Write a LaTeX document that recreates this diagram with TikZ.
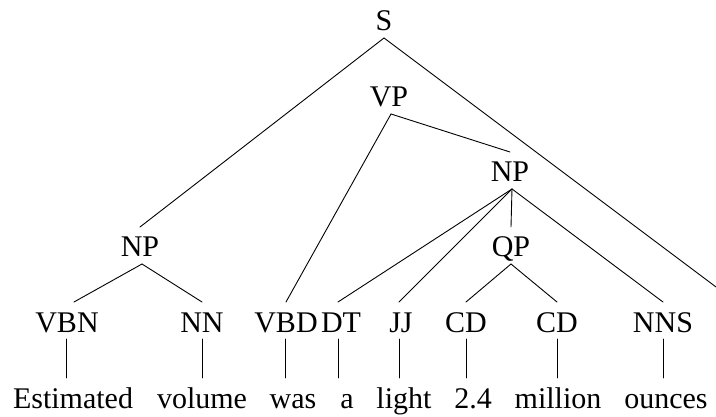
\documentclass[tikz,border=0pt]{standalone}
\usepackage{fontspec}
\setmainfont{Liberation Serif}
\begin{document}
\begin{tikzpicture}[x=1pt,y=-1pt,
  lbl/.style={inner sep=0pt,outer sep=0pt,anchor=base,text height=30pt,text depth=7pt,
    font=\fontsize{30}{34}\selectfont},
  edge/.style={line width=0.9pt,line cap=round}]
\useasboundingbox (0,0) rectangle (716,417);
% phrase labels
\node[lbl] (S)   at (384,31)  {S};
\node[lbl] (VP)  at (389,107) {VP};
\node[lbl] (NPm) at (510,182) {NP};
\node[lbl] (NPl) at (140,257) {NP};
\node[lbl] (QP)  at (511,257) {QP};
% preterminals
\node[lbl] (vbn) at (67,332)  {VBN};
\node[lbl] (nn)  at (202,332) {NN};
\node[lbl] (vbd) at (286,332) {VBD};
\node[lbl] (dt)  at (341,332) {DT};
\node[lbl] (jj)  at (401,332) {JJ};
\node[lbl] (cda) at (466,332) {CD};
\node[lbl] (cdb) at (557,332) {CD};
\node[lbl] (nns) at (663,332) {NNS};
% words
\node[lbl] (w1) at (73,408)  {Estimated};
\node[lbl] (w2) at (202,408) {volume};
\node[lbl] (w3) at (293,408) {was};
\node[lbl] (w4) at (347,408) {a};
\node[lbl] (w5) at (404,408) {light};
\node[lbl] (w6) at (473,408) {2.4};
\node[lbl] (w7) at (558,408) {million};
\node[lbl] (w8) at (666,408) {ounces};
\coordinate (edgeR) at (716,287);
% edges
\draw[edge] (S.south) -- (NPl.north);
\draw[edge] (S.south) -- (edgeR);
\draw[edge] ([xshift=2pt]VP.south) -- (vbd.north);
\draw[edge] ([xshift=2pt]VP.south) -- (NPm.north);
\draw[edge] ([xshift=2pt]NPl.south) -- ([xshift=7pt]vbn.north);
\draw[edge] ([xshift=2pt]NPl.south) -- (nn.north);
\draw[edge] ([xshift=2pt]NPm.south) -- ([xshift=-3pt]dt.north);
\draw[edge] ([xshift=2pt]NPm.south) -- ([xshift=-2pt]jj.north);
\draw[edge] ([xshift=2pt]NPm.south) -- (QP.north);
\draw[edge] ([xshift=2pt]NPm.south) -- (nns.north);
\draw[edge] (QP.south) -- (cda.north);
\draw[edge] (QP.south) -- (cdb.north);
% lexical edges
\draw[edge] ([xshift=-1pt]vbn.south) -- ([xshift=-1pt]vbn.south |- w1.north);
\draw[edge] (nn.south)  -- (nn.south |- w2.north);
\draw[edge] ([xshift=-1pt]vbd.south) -- ([xshift=-1pt]vbd.south |- w3.north);
\draw[edge] ([xshift=-3pt]dt.south)  -- ([xshift=-3pt]dt.south |- w4.north);
\draw[edge] ([xshift=-2pt]jj.south)  -- ([xshift=-2pt]jj.south |- w5.north);
\draw[edge] (cda.south) -- (cda.south |- w6.north);
\draw[edge] (cdb.south) -- (cdb.south |- w7.north);
\draw[edge] (nns.south) -- (nns.south |- w8.north);
\end{tikzpicture}
\end{document}
